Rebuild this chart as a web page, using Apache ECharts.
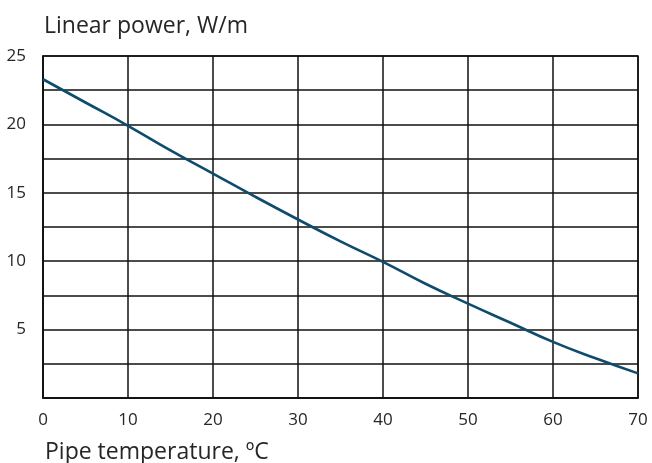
<!DOCTYPE html>
<html>
<head>
<meta charset="utf-8">
<script src="https://cdn.jsdelivr.net/npm/echarts@6/dist/echarts.min.js"></script>
<style>
  html, body { margin: 0; padding: 0; background: #fff; }
  #chart { width: 652px; height: 463px; }
</style>
</head>
<body>
<div id="chart"></div>
<script>
// Pipe temperature (ºC) and the matching linear heat output (W/m)
const temperatures = [0, 5, 10, 15, 20, 25, 30, 35, 40, 45, 50, 55, 60, 65, 70];
const linearPower  = [23.3, 21.6, 19.9, 18.1, 16.4, 14.7, 13.05, 11.45, 9.95, 8.35, 6.9, 5.5, 4.1, 2.9, 1.8];

const yTitle = 'Linear power, W/m';
const xTitle = 'Pipe temperature, ºC';

const textColor = '#262626';
const fontFamily = '"Open Sans", "Noto Sans", sans-serif';

const chart = echarts.init(document.getElementById('chart'), null, { renderer: 'canvas' });

chart.setOption({
  animation: false,
  backgroundColor: '#ffffff',
  grid: {
    left: 43, right: 14, top: 56, bottom: 65,
    show: true, borderColor: '#111', borderWidth: 1.5
  },
  xAxis: {
    type: 'value',
    min: 0, max: 70, interval: 10,
    axisLine: { show: true, lineStyle: { color: '#111', width: 1.5 } },
    axisTick: { show: false },
    axisLabel: { color: textColor, fontSize: 17, fontFamily: fontFamily, margin: 14 },
    splitLine: { show: true, lineStyle: { color: '#111', width: 1.5 } }
  },
  yAxis: {
    type: 'value',
    min: 0, max: 25, interval: 2.5,
    axisLine: { show: true, lineStyle: { color: '#111', width: 1.5 } },
    axisTick: { show: false },
    axisLabel: {
      color: textColor, fontSize: 17, fontFamily: fontFamily, margin: 17,
      formatter: v => (v > 0 && v % 5 === 0) ? String(v) : ''
    },
    splitLine: { show: true, lineStyle: { color: '#111', width: 1.5 } }
  },
  graphic: [
    {
      type: 'text', left: 44, top: 15,
      style: { text: yTitle, fill: textColor, font: '23px ' + fontFamily }
    },
    {
      type: 'text', left: 45, top: 441,
      style: { text: xTitle, fill: textColor, font: '23px ' + fontFamily }
    }
  ],
  series: [{
    type: 'line',
    data: temperatures.map((t, i) => [t, linearPower[i]]),
    smooth: true,
    showSymbol: false,
    lineStyle: { color: '#0e4b6c', width: 2.6 }
  }]
});
</script>
</body>
</html>
